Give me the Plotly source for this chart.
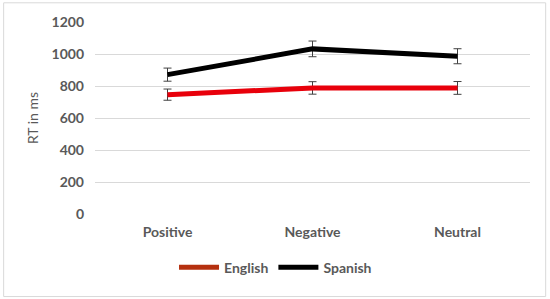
import plotly.graph_objects as go

# data
conditions = ["Positive", "Negative", "Neutral"]
english_rt = [746, 788, 788]
english_err = [35, 39, 40]
spanish_rt = [871, 1032, 986]
spanish_err = [41, 49, 47]
y_ticks = [0, 200, 400, 600, 800, 1000, 1200]

font_main = "Lato, 'Open Sans', sans-serif"
grey = "#595959"

fig = go.Figure()

fig.add_trace(go.Scatter(
    x=conditions, y=spanish_rt, mode="lines", showlegend=False,
    line=dict(color="black", width=5),
    error_y=dict(type="data", array=spanish_err, color="#404040", thickness=1, width=4),
))
fig.add_trace(go.Scatter(
    x=conditions, y=english_rt, mode="lines", showlegend=False,
    line=dict(color="#E8000B", width=5),
    error_y=dict(type="data", array=english_err, color="#404040", thickness=1, width=4),
))

# legend entries
fig.add_trace(go.Scatter(x=[None], y=[None], mode="lines", name="English",
                         line=dict(color="#B5300F", width=5)))
fig.add_trace(go.Scatter(x=[None], y=[None], mode="lines", name="Spanish",
                         line=dict(color="black", width=5)))

fig.update_layout(
    width=550, height=299,
    margin=dict(l=95, r=20, t=22, b=85),
    paper_bgcolor="white", plot_bgcolor="white",
    font=dict(family=font_main, color=grey, size=13),
    legend=dict(orientation="h", x=0.415, xanchor="center", y=-0.28, yanchor="middle",
                font=dict(size=14, color=grey, weight="bold"), itemwidth=40,
                tracegroupgap=0),
    shapes=[dict(type="rect", xref="paper", yref="paper", x0=-0.21, x1=1.036,
                 y0=-0.43, y1=1.1, line=dict(color="#D9D9D9", width=1))],
)
fig.update_xaxes(range=[-0.5, 2.5], showgrid=False, showline=False, ticks="",
                 tickfont=dict(size=14, color=grey, weight="bold"),
                 ticklabelstandoff=8)
fig.update_yaxes(range=[0, 1200], tickvals=y_ticks, showgrid=True,
                 gridcolor="#D9D9D9", gridwidth=1, zeroline=False,
                 tickfont=dict(size=14, color=grey, weight="bold"),
                 title=dict(text="RT in ms", font=dict(size=14, color=grey), standoff=9),
                 ticklabelstandoff=10)

fig.write_html("out.html", config={"displayModeBar": False},
               post_script="document.body.style.margin='0';")
